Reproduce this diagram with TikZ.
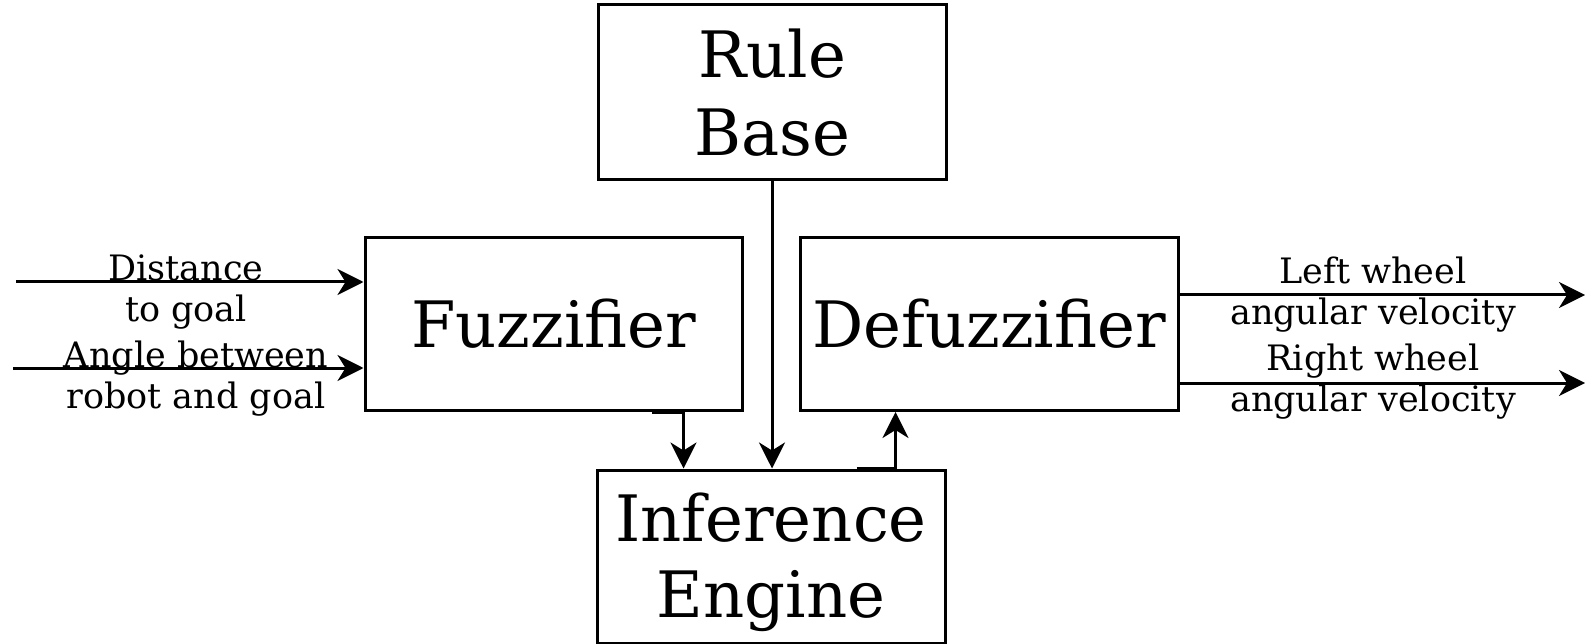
\documentclass[tikz,border=0pt]{standalone}
\usepackage{fontspec}
\setmainfont{DejaVu Serif}
\usetikzlibrary{arrows.meta,calc}
\tikzset{
  block/.style={draw, line width=3pt, inner sep=0pt, align=center,
    font=\fontsize{64}{78}\selectfont},
  blocktext/.style={align=center, inner sep=0pt, font=\fontsize{64}{76}\selectfont},
  lbl/.style={align=center, inner sep=0pt, font=\fontsize{35}{41}\selectfont},
  arr/.style={line width=3pt, -{Stealth[length=26pt,width=26pt,inset=8pt]}}
}
\begin{document}
\begin{tikzpicture}[x=1pt,y=-1pt]
  \useasboundingbox (0,0) rectangle (1585,644);
  % blocks
  \node[block, minimum width=348pt, minimum height=175pt] (rule) at (772,92.5) {Rule\\Base};
  \node[block, minimum width=377pt, minimum height=173pt] (fuz) at (553.5,324) {Fuzzifier};
  \node[block, minimum width=378pt, minimum height=173pt] (def) at (989,324) {Defuzzifier};
  \node[block, minimum width=348pt, minimum height=173pt] (inf) at (771,556.5) {};
  \node[blocktext] (inftext) at ([yshift=-6pt]inf.center) {Inference\\Engine};
  % free ends of the input and output lines
  \coordinate (in1) at (16,282);
  \coordinate (in2) at (13,368);
  \coordinate (out1) at (1585,295);
  \coordinate (out2) at (1585,383);
  % inputs
  \draw[arr] (in1) -- (in1 -| fuz.west);
  \draw[arr] (in2) -- (in2 -| fuz.west);
  \node[lbl] (l1) at (186,292) {Distance\\to goal};
  \node[lbl] (l2) at (196,379) {Angle between\\robot and goal};
  % outputs
  \draw[arr] (out1 -| def.east) -- (out1);
  \draw[arr] (out2 -| def.east) -- (out2);
  \node[lbl] (l3) at (1373,295) {Left wheel\\angular velocity};
  \node[lbl] (l4) at (1373,382) {Right wheel\\angular velocity};
  % internal flow
  \draw[arr] (rule.south) -- (rule.south |- inf.north);
  \coordinate (fo) at ($(fuz.south east)+(-92,0)$);
  \coordinate (ii) at ($(inf.north west)+(88,0)$);
  \draw[arr] (fo) -| (ii);
  \coordinate (io) at ($(inf.north west)+(261,0)$);
  \coordinate (di) at ($(def.south west)+(97,0)$);
  \draw[arr] (io) -| (di);
\end{tikzpicture}
\end{document}
